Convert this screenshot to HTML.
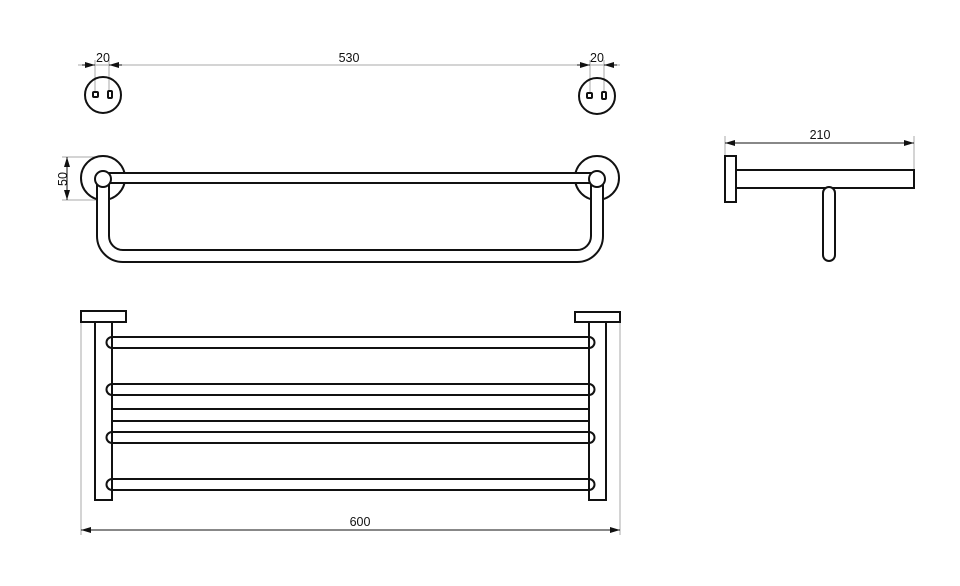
<!DOCTYPE html>
<html><head><meta charset="utf-8"><style>
html,body{margin:0;padding:0;background:#fff;}
svg{display:block;}
text{font-family:"Liberation Sans",sans-serif;font-size:12.5px;fill:#111;}
</style></head><body>
<svg width="960" height="586" viewBox="0 0 960 586" xmlns="http://www.w3.org/2000/svg">
<defs>
<marker id="a" viewBox="0 0 10 6" refX="10" refY="3" markerWidth="10" markerHeight="6" orient="auto-start-reverse" markerUnits="userSpaceOnUse"><path d="M0,0 L10,3 L0,6 Z" fill="#111"/></marker>
</defs>
<g stroke="#aaa" stroke-width="1" fill="none">
<line x1="78" y1="65" x2="620" y2="65"/>
<line x1="95" y1="60" x2="95" y2="92"/>
<line x1="109" y1="60" x2="109" y2="92"/>
<line x1="590" y1="60" x2="590" y2="92"/>
<line x1="604" y1="60" x2="604" y2="92"/>
<line x1="62" y1="157" x2="100" y2="157"/>
<line x1="62" y1="200" x2="100" y2="200"/>
<line x1="81" y1="322" x2="81" y2="535"/>
<line x1="620" y1="322" x2="620" y2="535"/>
<line x1="725" y1="136" x2="725" y2="156"/>
<line x1="914" y1="136" x2="914" y2="170"/>
</g>
<g stroke="#111" stroke-width="1" fill="none">
<line x1="82" y1="65" x2="95" y2="65" marker-end="url(#a)"/>
<line x1="122" y1="65" x2="109" y2="65" marker-end="url(#a)"/>
<line x1="577" y1="65" x2="590" y2="65" marker-end="url(#a)"/>
<line x1="617" y1="65" x2="604" y2="65" marker-end="url(#a)"/>
<line x1="67" y1="157" x2="67" y2="200" marker-start="url(#a)" marker-end="url(#a)"/>
<line x1="81" y1="530" x2="620" y2="530" marker-start="url(#a)" marker-end="url(#a)"/>
<line x1="725" y1="143" x2="914" y2="143" marker-start="url(#a)" marker-end="url(#a)"/>
</g>
<text x="103" y="62" text-anchor="middle">20</text>
<text x="349" y="62" text-anchor="middle">530</text>
<text x="597" y="62" text-anchor="middle">20</text>
<text x="63" y="179" text-anchor="middle" transform="rotate(-90 63 179)" dy="4">50</text>
<text x="360" y="526" text-anchor="middle">600</text>
<text x="820" y="139" text-anchor="middle">210</text>

<g stroke="#111" stroke-width="2" fill="none">
<circle cx="103" cy="95" r="18"/>
<rect x="93" y="92" width="5" height="5" rx="1"/>
<rect x="108" y="91" width="4" height="7" rx="1"/>
<circle cx="597" cy="96" r="18"/>
<rect x="587" y="93" width="5" height="5" rx="1"/>
<rect x="602" y="92" width="4" height="7" rx="1"/>

<!-- middle view -->
<circle cx="103" cy="178" r="22" fill="#fff"/>
<circle cx="597" cy="178" r="22" fill="#fff"/>
</g>
<path d="M103,178 V236 A20,20 0 0 0 123,256 H577 A20,20 0 0 0 597,236 V178" fill="none" stroke="#111" stroke-width="14"/>
<path d="M103,178 V236 A20,20 0 0 0 123,256 H577 A20,20 0 0 0 597,236 V178" fill="none" stroke="#fff" stroke-width="10"/>
<line x1="103" y1="178" x2="597" y2="178" stroke="#111" stroke-width="12"/>
<line x1="103" y1="178" x2="597" y2="178" stroke="#fff" stroke-width="8"/>
<g stroke="#111" stroke-width="2" fill="none">
<circle cx="103" cy="179" r="8" fill="#fff"/>
<circle cx="597" cy="179" r="8" fill="#fff"/>

<!-- bottom view -->
<rect x="81" y="311" width="45" height="11" fill="#fff"/>
<rect x="95" y="322" width="17" height="178" fill="#fff"/>
<rect x="575" y="312" width="45" height="10" fill="#fff"/>
<rect x="589" y="322" width="17" height="178" fill="#fff"/>
<path d="M112,337 H589 M112,348 H589"/>
<path d="M112,337 A5.5,5.5 0 0 0 112,348 M589,337 A5.5,5.5 0 0 1 589,348"/>
<path d="M112,384 H589 M112,395 H589"/>
<path d="M112,384 A5.5,5.5 0 0 0 112,395 M589,384 A5.5,5.5 0 0 1 589,395"/>
<path d="M112,409 H589 M112,421 H589"/>
<path d="M112,432 H589 M112,443 H589"/>
<path d="M112,432 A5.5,5.5 0 0 0 112,443 M589,432 A5.5,5.5 0 0 1 589,443"/>
<path d="M112,479 H589 M112,490 H589"/>
<path d="M112,479 A5.5,5.5 0 0 0 112,490 M589,479 A5.5,5.5 0 0 1 589,490"/>

<!-- side view -->
<rect x="725" y="156" width="11" height="46" fill="#fff"/>
<rect x="736" y="170" width="178" height="18" fill="#fff"/>
<rect x="823" y="187" width="12" height="74" rx="6" fill="#fff"/>
</g>
</svg>
</body></html>
